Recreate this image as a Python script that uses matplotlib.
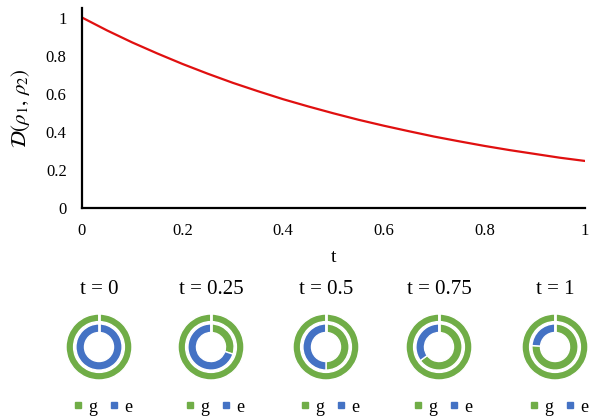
import matplotlib
matplotlib.use("Agg")
import matplotlib.pyplot as plt
from matplotlib.lines import Line2D

plt.rcParams['font.family'] = ['Liberation Serif', 'DejaVu Serif']
plt.rcParams['mathtext.fontset'] = 'stix'

# ---- data ----
t_vals = [0.00, 0.05, 0.10, 0.15, 0.20, 0.25, 0.30, 0.35, 0.40, 0.45, 0.50,
          0.55, 0.60, 0.65, 0.70, 0.75, 0.80, 0.85, 0.90, 0.95, 1.00]
d_vals = [1.000, 0.932, 0.869, 0.811, 0.756, 0.705, 0.657, 0.613, 0.571, 0.533, 0.497,
          0.463, 0.432, 0.403, 0.375, 0.350, 0.326, 0.304, 0.284, 0.264, 0.247]
x_ticks = [0, 0.2, 0.4, 0.6, 0.8, 1]
x_ticklabels = ['0', '0.2', '0.4', '0.6', '0.8', '1']
y_ticks = [0, 0.2, 0.4, 0.6, 0.8, 1]
y_ticklabels = ['0', '0.2', '0.4', '0.6', '0.8', '1']

donut_titles = ['t = 0', 't = 0.25', 't = 0.5', 't = 0.75', 't = 1']
outer_g = [1, 1, 1, 1, 1]
outer_e = [0, 0, 0, 0, 0]
inner_g = [0.00, 0.30, 0.50, 0.65, 0.76]
inner_e = [1.00, 0.70, 0.50, 0.35, 0.24]
legend_labels = ['g', 'e']

GREEN = '#70AD47'
BLUE = '#4472C4'
RED = '#e01010'

W, H = 592, 417
fig = plt.figure(figsize=(W / 100, H / 100), dpi=100)

# ---- main line chart ----
ax = fig.add_axes([82 / W, 1 - 208 / H, 503 / W, 200 / H])
ax.plot(t_vals, d_vals, color=RED, lw=1.6)
ax.set_xlim(0, 1)
ax.set_ylim(0, 1.05)
ax.set_xticks(x_ticks)
ax.set_xticklabels(x_ticklabels)
ax.set_yticks(y_ticks)
ax.set_yticklabels(y_ticklabels)
ax.tick_params(length=0, labelsize=12, pad=11)
for s in ['top', 'right']:
    ax.spines[s].set_visible(False)
for s in ['left', 'bottom']:
    ax.spines[s].set_linewidth(1.6)
    ax.spines[s].set_color('black')
ax.set_xlabel('t', fontsize=14, labelpad=7)
ax.set_ylabel(r'$\mathcal{D}(\rho_1,\,\rho_2)$', fontsize=15, labelpad=10)

# ---- donuts ----
centers_x = [99, 211, 326, 439, 555]
cy = 347
R = 33
for i, cx in enumerate(centers_x):
    dax = fig.add_axes([(cx - R) / W, 1 - (cy + R) / H, 2 * R / W, 2 * R / H])
    wp = dict(edgecolor='white', linewidth=1.0)
    dax.pie([outer_g[i], outer_e[i]], colors=[GREEN, BLUE], radius=1.0,
            startangle=90, counterclock=False,
            wedgeprops=dict(width=0.23, **wp))
    dax.pie([inner_g[i], inner_e[i]], colors=[GREEN, BLUE], radius=0.70,
            startangle=90, counterclock=False,
            wedgeprops=dict(width=0.26, **wp))
    # separator at start angle (slice border)
    dax.plot([0, 0], [0.42, 1.02], color='white', lw=2.0, solid_capstyle='butt')
    dax.set_xlim(-1, 1)
    dax.set_ylim(-1, 1)
    dax.set_aspect('equal')
    dax.axis('off')
    fig.text(cx / W, 1 - 289 / H, donut_titles[i], ha='center', va='center', fontsize=15)
    handles = [Line2D([], [], marker='s', ls='none', color=GREEN, markersize=4.5),
               Line2D([], [], marker='s', ls='none', color=BLUE, markersize=4.5)]
    fig.legend(handles, legend_labels, loc='center', ncol=2, frameon=False,
               bbox_to_anchor=((cx + 4) / W, 1 - 407 / H), fontsize=13,
               handlelength=0.5, handletextpad=0.3, columnspacing=0.7,
               borderpad=0, borderaxespad=0)

fig.savefig('out.png', dpi=100)
